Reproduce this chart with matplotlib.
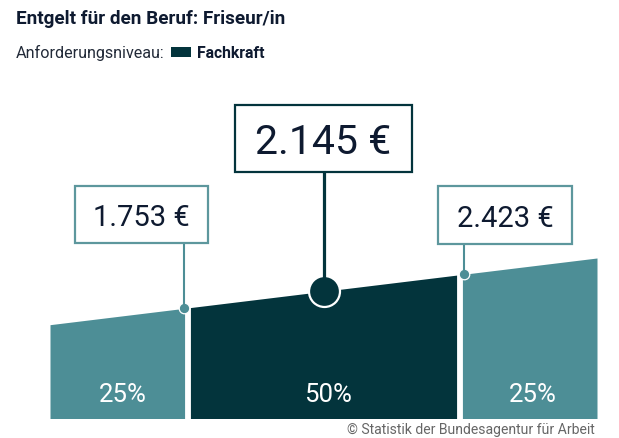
import numpy as np
import matplotlib
matplotlib.use('Agg')
import matplotlib.pyplot as plt
from matplotlib.patches import Rectangle

W, H = 619, 439

# Daten
percentiles = [25, 50, 75]
salary = [1753, 2145, 2423]
value_labels = ["1.753 €", "2.145 €", "2.423 €"]
band_edges = [0, 25, 75, 100]
band_shares = ["25%", "50%", "25%"]
top_pct = [0, 100]
top_value = [1418, 2756]
base_value = -464

title = "Entgelt für den Beruf: Friseur/in"
legend_label = "Anforderungsniveau:"
legend_level = "Fachkraft"
source = "© Statistik der Bundesagentur für Arbeit"

DARK = "#03343c"
TEAL = "#4d8e96"
BORDER = "#5d979d"
INK = "#0e1a30"

plt.rcParams['font.family'] = ['Roboto', 'DejaVu Sans']

fig = plt.figure(figsize=(W / 100, H / 100), dpi=100)


def px(x, y):
    return x / W, 1 - y / H


def box(x0, y0, x1, y1, **kw):
    fig.add_artist(Rectangle(px(x0, y1), (x1 - x0) / W, (y1 - y0) / H,
                             transform=fig.transFigure, **kw))


# Achse: x in Prozent der Beschäftigten, y in Euro
ax = fig.add_axes([50 / W, 1 - 419.5 / H, 547 / W, 359.5 / H])
ax.set_xlim(0, 100)
ax.set_ylim(base_value, base_value + 359.5 * 20.06)
ax.axis("off")

band_colors = [TEAL, DARK, TEAL]
for i in range(3):
    xs = np.array(band_edges[i:i + 2], dtype=float)
    ax.fill_between(xs, base_value, np.interp(xs, top_pct, top_value),
                    color=band_colors[i], lw=0, zorder=1)
    ax.text(xs.mean() + 0.8, 0.068, band_shares[i], color="white", fontsize=18.5,
            ha="center", va="center", transform=ax.get_xaxis_transform(), zorder=3)

# weisse Luecken zwischen den Flaechen
gap_shift = [0.15, -0.1]
for i, edge in enumerate(band_edges[1:3]):
    ax.axvline(edge + gap_shift[i], color="white", lw=4.2, zorder=2)

# Stiele und Punkte, leicht versetzt wie im Original
mark_shift = [-0.55, 0.0, 0.7]
stem_top = [244, 173, 245]
stem_lw = [1.5, 2.3, 1.5]
mark_size = [7.6, 22.3, 7.6]
mark_edge = [0.9, 1.6, 0.9]
mark_colors = [TEAL, DARK, TEAL]
box_xy = [(74.5, 186.5, 208, 244), (234.5, 105.5, 412.5, 172.5), (438, 187, 572, 245)]
box_font = [21, 29.5, 21]

for i in range(3):
    x = percentiles[i] + mark_shift[i]
    y = np.interp(x, top_pct, top_value)
    top_y = base_value + (419.5 - stem_top[i]) * 20.06
    ax.plot([x], [y], "o", ms=mark_size[i], mfc=mark_colors[i], mec="white",
            mew=mark_edge[i], zorder=4, clip_on=False)
    ax.plot([x, x], [y, top_y], color=mark_colors[i], lw=stem_lw[i], zorder=5, clip_on=False)
    x0, y0, x1, y1 = box_xy[i]
    box(x0, y0, x1, y1, fc="white", ec=DARK if i == 1 else BORDER, lw=1.6, zorder=6)
    tx, ty = px((x0 + x1) / 2, (y0 + y1) / 2)
    fig.text(tx, ty, value_labels[i], color=INK, fontsize=box_font[i],
             ha="center", va="center_baseline", zorder=7)

# Kopf
tx, ty = px(16, 24)
fig.text(tx, ty, title, fontsize=13.6, fontweight="bold", color=INK, va="baseline")
tx, ty = px(16, 58)
fig.text(tx, ty, legend_label, fontsize=11.6, color="#222a38", va="baseline")
box(171, 48.3, 191, 57.8, fc=DARK, ec="none")
tx, ty = px(196.5, 58)
fig.text(tx, ty, legend_level, fontsize=11.3, fontweight="bold", color=INK, va="baseline")

# Quelle
tx, ty = px(595, 434)
fig.text(tx, ty, source, fontsize=10.1, color="#666666", ha="right", va="baseline")

fig.savefig("out.png", dpi=100)
